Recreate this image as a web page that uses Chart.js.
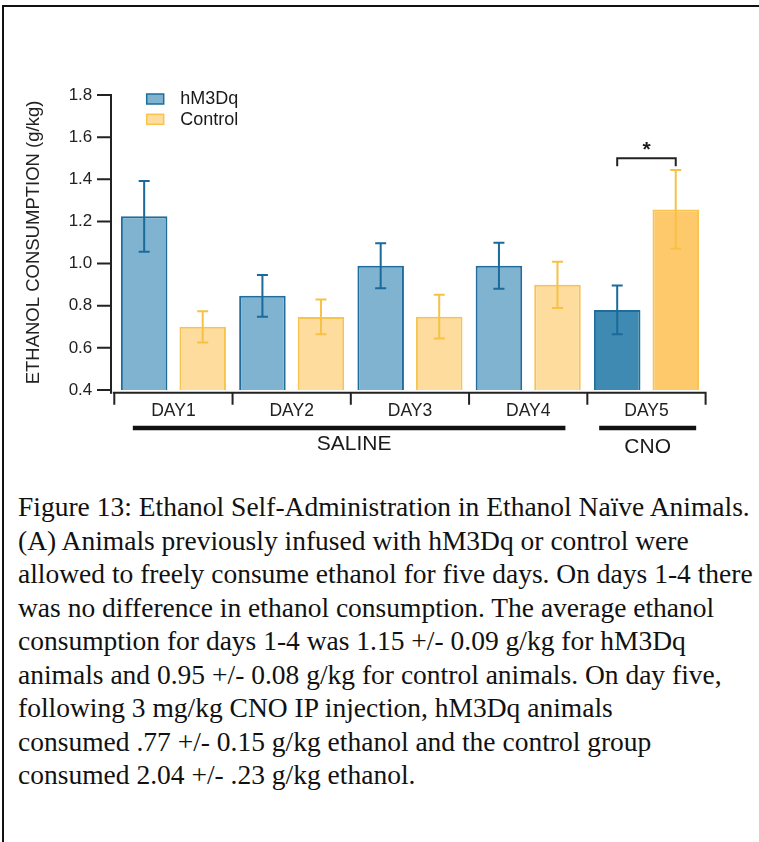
<!DOCTYPE html>
<html>
<head>
<meta charset="utf-8">
<script src="https://cdn.jsdelivr.net/npm/chart.js@4.4.1/dist/chart.umd.min.js"></script>
<style>
html, body { margin: 0; padding: 0; background: #fff; }
body { width: 759px; height: 842px; position: relative; overflow: hidden; }
#frame { position: absolute; left: 2px; top: 5px; width: 770px; height: 860px; border-top: 2px solid #111; border-left: 2px solid #111; box-sizing: border-box; }
#wrap { position: absolute; left: 0; top: 0; width: 759px; height: 470px; }
#caption { position: absolute; left: 18px; top: 490px; font-family: "Liberation Serif", "Times New Roman", serif; font-size: 27.5px; line-height: 33.5px; color: #111; white-space: nowrap; }
</style>
</head>
<body>
<div id="frame"></div>
<div id="wrap"><canvas id="c" width="759" height="470"></canvas></div>
<div id="caption">
Figure 13: Ethanol Self-Administration in Ethanol Naïve Animals.<br>
(A) Animals previously infused with hM3Dq or control were<br>
allowed to freely consume ethanol for five days. On days 1-4 there<br>
was no difference in ethanol consumption. The average ethanol<br>
consumption for days 1-4 was 1.15 +/- 0.09 g/kg for hM3Dq<br>
animals and 0.95 +/- 0.08 g/kg for control animals. On day five,<br>
following 3 mg/kg CNO IP injection, hM3Dq animals<br>
consumed .77 +/- 0.15 g/kg ethanol and the control group<br>
consumed 2.04 +/- .23 g/kg ethanol.
</div>
<script>
// ---- data ----
const days = ['DAY1', 'DAY2', 'DAY3', 'DAY4', 'DAY5'];
const hm3dqMean = [1.224, 0.847, 0.990, 0.990, 0.780];
const hm3dqErr = [0.168, 0.099, 0.107, 0.109, 0.116];
const controlMean = [0.700, 0.747, 0.748, 0.899, 1.257];
const controlErr = [0.074, 0.082, 0.104, 0.110, 0.187];
const yMin = 0.4, yMax = 1.8, yStep = 0.2;
const yTitle = 'ETHANOL CONSUMPTION (g/kg)';
const treatmentGroups = ['SALINE', 'SALINE', 'SALINE', 'SALINE', 'CNO'];
const sigDay = 4, sigValue = 1.5, sigMark = '*';

// ---- styles ----
const SANS = '"Liberation Sans", Arial, Helvetica, sans-serif';
Chart.defaults.font.family = SANS;
Chart.defaults.color = '#222';
const blueFill = days.map((d, i) => i === 4 ? '#3f8ab3' : '#80b3cf');
const yellowFill = days.map((d, i) => i === 4 ? '#fec96a' : '#fddc9d');

const decor = {
  id: 'decor',
  afterDatasetsDraw(chart) {
    const { ctx, scales: { y } } = chart;
    chart.data.datasets.forEach((ds, di) => {
      const meta = chart.getDatasetMeta(di);
      ctx.save();
      ctx.strokeStyle = ds.errColor;
      ctx.lineWidth = 2;
      meta.data.forEach((bar, i) => {
        const v = ds.data[i], e = ds.errors[i];
        const yt = y.getPixelForValue(v + e), yb = y.getPixelForValue(v - e);
        ctx.beginPath();
        ctx.moveTo(bar.x, yt); ctx.lineTo(bar.x, yb);
        ctx.moveTo(bar.x - 5.5, yt); ctx.lineTo(bar.x + 5.5, yt);
        ctx.moveTo(bar.x - 5.5, yb); ctx.lineTo(bar.x + 5.5, yb);
        ctx.stroke();
      });
      ctx.restore();
    });
  },
  afterDraw(chart) {
    const { ctx, chartArea: a, scales: { x, y } } = chart;
    ctx.save();
    ctx.strokeStyle = '#222';
    ctx.lineWidth = 2;
    // y axis (offset)
    const ax = a.left - 3.3, ay = a.bottom + 2.7;
    ctx.beginPath();
    ctx.moveTo(ax, y.getPixelForValue(yMax) - 1); ctx.lineTo(ax, ay + 1);
    y.ticks.forEach(t => {
      const py = y.getPixelForValue(t.value);
      ctx.moveTo(ax - 14, py); ctx.lineTo(ax, py);
    });
    // x axis (offset)
    ctx.moveTo(a.left - 1.5, ay); ctx.lineTo(a.right + 1, ay);
    const cw = x.getPixelForValue(1) - x.getPixelForValue(0);
    for (let i = 0; i <= days.length; i++) {
      const bx = x.getPixelForValue(0) - cw / 2 + i * cw;
      ctx.moveTo(bx, ay); ctx.lineTo(bx, ay + 12);
    }
    ctx.stroke();

    // treatment group bars
    ctx.strokeStyle = '#111';
    ctx.lineWidth = 4.5;
    ctx.fillStyle = '#1a1a1a';
    ctx.font = '21px ' + SANS;
    ctx.textAlign = 'center';
    ctx.textBaseline = 'middle';
    const groups = [];
    treatmentGroups.forEach((g, i) => {
      const last = groups[groups.length - 1];
      if (last && last.label === g) last.to = i; else groups.push({ label: g, from: i, to: i });
    });
    groups.forEach(g => {
      const single = g.from === g.to;
      const x1 = x.getPixelForValue(g.from) - (single ? 47.3 : 40.6);
      const x2 = x.getPixelForValue(g.to) + (single ? 49.7 : 37.2);
      ctx.beginPath();
      ctx.moveTo(x1, a.bottom + 38); ctx.lineTo(x2, a.bottom + 38);
      ctx.stroke();
      ctx.fillText(g.label, (x1 + x2) / 2 + (single ? 0 : 5), a.bottom + (single ? 57.5 : 54.5));
    });

    // significance bracket
    const b1 = chart.getDatasetMeta(0).data[sigDay].x;
    const b2 = chart.getDatasetMeta(1).data[sigDay].x;
    const by = y.getPixelForValue(sigValue);
    ctx.strokeStyle = '#222';
    ctx.lineWidth = 2;
    ctx.beginPath();
    ctx.moveTo(b1, by + 8); ctx.lineTo(b1, by); ctx.lineTo(b2, by); ctx.lineTo(b2, by + 8);
    ctx.stroke();
    ctx.font = 'bold 21px ' + SANS;
    ctx.fillText(sigMark, (b1 + b2) / 2, by - 8);

    // legend
    ctx.font = '18px ' + SANS;
    ctx.textAlign = 'left';
    chart.data.datasets.forEach((ds, di) => {
      const lx = a.left + 32.4, ly = a.top - 1 + di * 20.3;
      ctx.fillStyle = ds.legendFill;
      ctx.fillRect(lx, ly, 17, 10);
      ctx.strokeStyle = ds.borderColor;
      ctx.lineWidth = 1.5;
      ctx.strokeRect(lx, ly, 17, 10);
      ctx.fillStyle = '#1a1a1a';
      ctx.fillText(ds.label, lx + 33.5, ly + 5.5);
    });
    ctx.restore();
  }
};

new Chart(document.getElementById('c'), {
  type: 'bar',
  data: {
    labels: days,
    datasets: [
      {
        label: 'hM3Dq', data: hm3dqMean, errors: hm3dqErr, errColor: '#1a6a9c',
        backgroundColor: blueFill, borderColor: '#1f6d9c', borderWidth: 2, legendFill: '#80b3cf',
        categoryPercentage: 0.99, barPercentage: 0.795
      },
      {
        label: 'Control', data: controlMean, errors: controlErr, errColor: '#f7c145',
        backgroundColor: yellowFill, borderColor: '#f9c350', borderWidth: 2, legendFill: '#fddc9d',
        categoryPercentage: 0.99, barPercentage: 0.795
      }
    ]
  },
  options: {
    responsive: false,
    animation: false,
    devicePixelRatio: 1,
    layout: { padding: { left: 20, right: 53.4, top: 95, bottom: 0 } },
    plugins: { legend: { display: false }, tooltip: { enabled: false } },
    scales: {
      x: {
        grid: { display: false, drawTicks: false },
        border: { display: false },
        ticks: { font: { size: 17.5 }, color: '#222', padding: 11 },
        afterFit(s) { s.height = 80; }
      },
      y: {
        min: yMin, max: yMax,
        grid: { display: false, drawTicks: false },
        border: { display: false },
        ticks: { stepSize: yStep, font: { size: 17 }, color: '#222', padding: 22,
                 callback: v => Number(v).toFixed(1) },
        title: { display: true, text: yTitle, font: { size: 18.5 }, color: '#222', padding: { top: 3, bottom: 0 } },
        afterFit(s) { s.width = 94.3; }
      }
    }
  },
  plugins: [decor]
});
</script>
</body>
</html>
